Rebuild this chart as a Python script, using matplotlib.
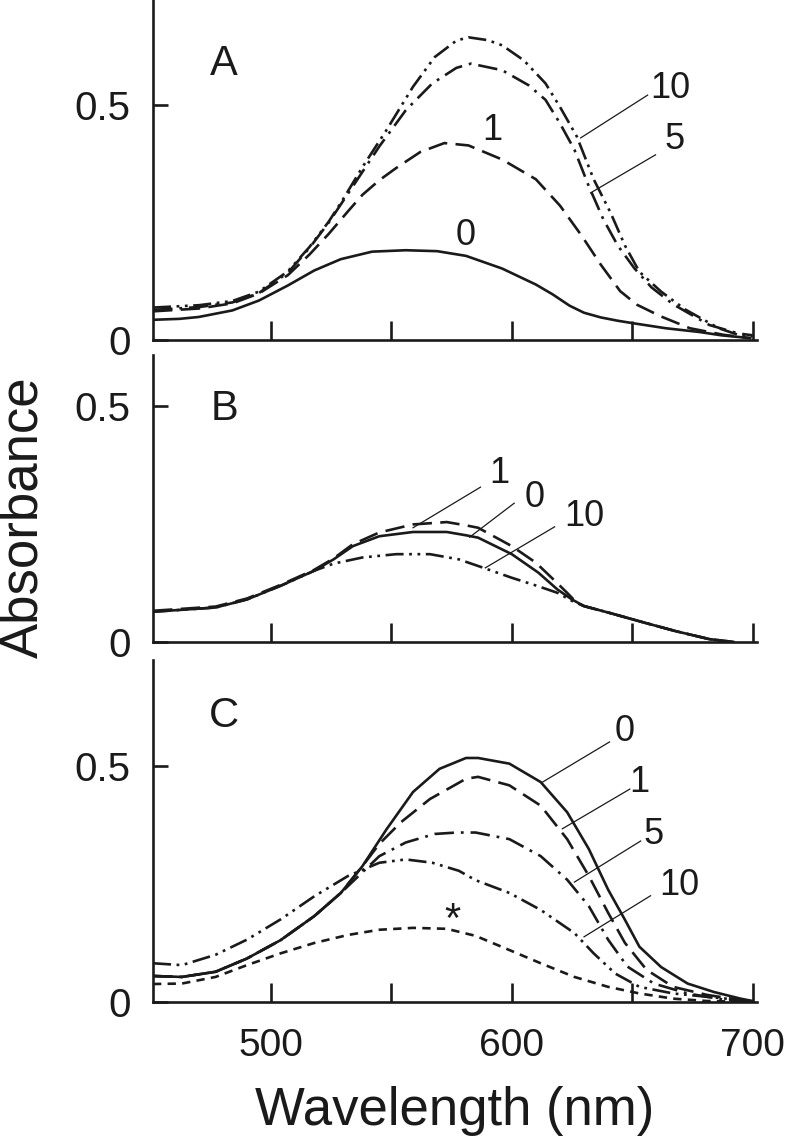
import matplotlib
matplotlib.use("Agg")
import matplotlib.pyplot as plt

plt.rcParams['font.family'] = ['Liberation Sans', 'DejaVu Sans']
plt.rcParams['lines.scale_dashes'] = False

# ---------------- data ----------------
# Panel A
a0_x = [451, 462, 470, 484, 495, 507, 518, 529, 542, 556, 569, 581, 596, 610, 617, 624, 630, 637, 644, 650, 664, 678, 687, 699]
a0_y = [0.043, 0.045, 0.049, 0.063, 0.084, 0.116, 0.148, 0.172, 0.188, 0.191, 0.189, 0.179, 0.152, 0.118, 0.097, 0.073, 0.058, 0.048, 0.041, 0.036, 0.025, 0.017, 0.010, 0.004]
a1_x = [451, 470, 484, 495, 507, 516, 524, 532, 538, 545, 552, 562, 572, 582, 596, 610, 620, 629, 637, 645, 652, 662, 674, 688, 699]
a1_y = [0.061, 0.067, 0.078, 0.099, 0.138, 0.182, 0.226, 0.274, 0.309, 0.340, 0.366, 0.400, 0.419, 0.414, 0.384, 0.342, 0.286, 0.222, 0.160, 0.104, 0.075, 0.050, 0.025, 0.011, 0.004]
a5_x = [451, 470, 484, 495, 507, 516, 524, 534, 545, 556, 567, 577, 583, 596, 607, 614, 620, 626, 632, 638, 644, 651, 658, 667, 682, 694, 700]
a5_y = [0.064, 0.070, 0.080, 0.100, 0.143, 0.196, 0.250, 0.327, 0.412, 0.489, 0.546, 0.579, 0.588, 0.574, 0.542, 0.511, 0.461, 0.405, 0.327, 0.257, 0.201, 0.152, 0.112, 0.076, 0.032, 0.014, 0.010]
a10_x = [451, 470, 484, 495, 507, 516, 524, 530, 538, 548, 559, 568, 577, 582, 590, 596, 605, 614, 620, 627, 634, 641, 647, 653, 662, 672, 686, 694, 700]
a10_y = [0.069, 0.074, 0.083, 0.103, 0.146, 0.198, 0.252, 0.300, 0.368, 0.447, 0.539, 0.602, 0.637, 0.644, 0.638, 0.627, 0.595, 0.546, 0.496, 0.433, 0.342, 0.271, 0.201, 0.145, 0.103, 0.065, 0.025, 0.011, 0.008]

# Panel B
b0_x = [451, 477, 490, 504, 518, 526, 534, 545, 559, 573, 581, 586, 600, 611, 619, 625, 630, 641, 655, 668, 682, 692]
b0_y = [0.064, 0.073, 0.090, 0.119, 0.151, 0.175, 0.203, 0.224, 0.233, 0.233, 0.226, 0.221, 0.186, 0.147, 0.111, 0.090, 0.076, 0.061, 0.041, 0.023, 0.006, 0.000]
b1_x = [451, 477, 490, 504, 518, 526, 534, 545, 559, 573, 581, 586, 600, 610, 618, 623, 627, 630, 641, 655, 668, 682, 692]
b1_y = [0.066, 0.075, 0.092, 0.121, 0.153, 0.177, 0.207, 0.232, 0.249, 0.254, 0.247, 0.242, 0.203, 0.168, 0.129, 0.104, 0.083, 0.076, 0.061, 0.041, 0.023, 0.006, 0.000]
b10_x = [451, 477, 490, 504, 518, 526, 538, 552, 566, 578, 586, 600, 611, 619, 625, 630, 641, 655, 668, 682, 692]
b10_y = [0.064, 0.073, 0.090, 0.119, 0.151, 0.166, 0.179, 0.186, 0.186, 0.175, 0.161, 0.136, 0.118, 0.104, 0.087, 0.076, 0.061, 0.041, 0.023, 0.006, 0.000]

# Panel C
c0_x = [451, 463, 477, 490, 504, 518, 529, 538, 548, 559, 570, 581, 586, 599, 612, 623, 632, 640, 647, 653, 662, 673, 684, 695, 700]
c0_y = [0.055, 0.053, 0.064, 0.092, 0.131, 0.182, 0.231, 0.288, 0.366, 0.445, 0.494, 0.517, 0.517, 0.505, 0.466, 0.402, 0.324, 0.238, 0.174, 0.117, 0.074, 0.039, 0.021, 0.007, 0.002]
c1_x = [451, 463, 477, 490, 504, 518, 529, 538, 545, 554, 566, 581, 586, 599, 612, 623, 632, 640, 647, 656, 667, 681, 695, 700]
c1_y = [0.055, 0.053, 0.064, 0.092, 0.131, 0.182, 0.231, 0.288, 0.335, 0.381, 0.430, 0.473, 0.477, 0.459, 0.416, 0.345, 0.267, 0.189, 0.125, 0.068, 0.032, 0.015, 0.004, 0.002]
c5_x = [451, 463, 477, 490, 504, 518, 529, 537, 545, 556, 568, 577, 585, 599, 612, 623, 632, 640, 648, 659, 673, 689, 700]
c5_y = [0.055, 0.053, 0.064, 0.092, 0.131, 0.182, 0.231, 0.270, 0.309, 0.338, 0.356, 0.359, 0.359, 0.345, 0.309, 0.259, 0.203, 0.132, 0.075, 0.039, 0.018, 0.004, 0.002]
c10_x = [451, 463, 477, 490, 504, 518, 532, 545, 556, 567, 578, 585, 599, 612, 626, 634, 643, 653, 667, 681, 695, 700]
c10_y = [0.082, 0.078, 0.100, 0.132, 0.175, 0.224, 0.267, 0.295, 0.302, 0.295, 0.278, 0.258, 0.231, 0.195, 0.146, 0.103, 0.060, 0.032, 0.018, 0.011, 0.004, 0.002]
cs_x = [451, 463, 477, 490, 504, 518, 532, 545, 559, 573, 585, 599, 612, 626, 640, 653, 667, 681, 700]
cs_y = [0.038, 0.039, 0.053, 0.078, 0.103, 0.125, 0.142, 0.153, 0.157, 0.155, 0.140, 0.110, 0.082, 0.053, 0.032, 0.018, 0.007, 0.002, 0.000]

# Curve labels: text, text position, leader line (start -> end)
a_lab = ["10", "5", "1", "0"]
a_lab_xy = [(666, 0.536), (667.6, 0.426), (592, 0.446), (581, 0.223)]
a_lead = [((656.4, 0.521), (628.6, 0.430)), ((659.7, 0.394), (632.7, 0.313)), None, None]
b_lab = ["1", "0", "10"]
b_lab_xy = [(595, 0.356), (609.5, 0.307), (630, 0.265)]
b_lead = [((587, 0.328), (559, 0.242)), ((601, 0.294), (582.5, 0.222)), ((617.8, 0.244), (589, 0.157))]
c_lab = ["0", "1", "5", "10", "*"]
c_lab_xy = [(647, 0.574), (653, 0.464), (659, 0.354), (669.7, 0.246), (575.5, 0.172)]
c_lead = [((640.6, 0.551), (612.8, 0.466)), ((649, 0.451), (621, 0.367)),
          ((653.5, 0.341), (626, 0.254)), ((657.6, 0.225), (630, 0.138)), None]

panel_letters = ["A", "B", "C"]
xticks = [500, 550, 600, 650, 700]
xticklabels = ["500", "", "600", "", "700"]
yticks = [0, 0.5]
yticklabels = ["0", "0.5"]

# ---------------- styles ----------------
INK = '#1a1a1a'
LW = 1.9
st_solid = dict(color=INK, lw=LW, linestyle='-')
st_dash = dict(color=INK, lw=LW, linestyle=(0, (14, 6)))
st_dd = dict(color=INK, lw=LW, linestyle=(0, (14, 5, 2, 5)))
st_ddd = dict(color=INK, lw=LW, linestyle=(0, (13, 4, 2, 4, 2, 4)))
st_short = dict(color=INK, lw=LW, linestyle=(0, (6, 4.5)))

fig = plt.figure(figsize=(7.87, 11.36), dpi=100)
L, W = 0.1944, 0.768
axA = fig.add_axes([L, 0.7007, W, 0.2993])
axB = fig.add_axes([L, 0.4349, W, 0.2526])
axC = fig.add_axes([L, 0.1180, W, 0.3010])

ylims = [0.7234, 0.608, 0.7246]
letter_y = [0.588, 0.493, 0.605]

for ax, ytop in zip([axA, axB, axC], ylims):
    ax.set_xlim(451, 702)
    ax.set_ylim(0, ytop)
    for s in ['top', 'right']:
        ax.spines[s].set_visible(False)
    for s in ['left', 'bottom']:
        ax.spines[s].set_linewidth(1.9)
        ax.spines[s].set_color(INK)
    ax.set_xticks(xticks)
    ax.set_yticks(yticks)
    ax.set_yticklabels(yticklabels)
    ax.tick_params(axis='x', direction='in', length=14, width=1.9, color=INK,
                   labelsize=28, pad=19, labelcolor=INK)
    ax.tick_params(axis='y', direction='in', length=11, width=1.9, color=INK,
                   labelsize=29, pad=16, labelcolor=INK)
    ax.patch.set_alpha(0)

axA.set_xticklabels([])
axB.set_xticklabels([])
axC.set_xticklabels(xticklabels)

axA.plot(a0_x, a0_y, **st_solid)
axA.plot(a1_x, a1_y, **st_dash)
axA.plot(a5_x, a5_y, **st_dd)
axA.plot(a10_x, a10_y, **st_ddd)

axB.plot(b0_x, b0_y, **st_solid)
axB.plot(b1_x, b1_y, **st_dash)
axB.plot(b10_x, b10_y, **st_ddd)

axC.plot(c0_x, c0_y, **st_solid)
axC.plot(c1_x, c1_y, **st_dash)
axC.plot(c5_x, c5_y, **st_dd)
axC.plot(c10_x, c10_y, **st_ddd)
axC.plot(cs_x, cs_y, **st_short)

for ax, labs, xys, leads in [(axA, a_lab, a_lab_xy, a_lead),
                             (axB, b_lab, b_lab_xy, b_lead),
                             (axC, c_lab, c_lab_xy, c_lead)]:
    for t, (x, y), ld in zip(labs, xys, leads):
        ax.text(x, y, t, fontsize=26 if t != "*" else 30, ha='center', va='center',
                color=INK)
        if ld is not None:
            (x1, y1), (x2, y2) = ld
            ax.plot([x1, x2], [y1, y2], color=INK, lw=0.9)

for ax, letter, ly in zip([axA, axB, axC], panel_letters, letter_y):
    ax.text(480.5, ly, letter, fontsize=30, ha='center', va='center', color=INK)

fig.text(0.578, 0.010, "Wavelength (nm)", fontsize=38, ha='center', va='baseline',
         color=INK)
fig.text(0.030, 0.545, "Absorbance", fontsize=38, ha='center', va='center',
         rotation=90, color=INK)

fig.savefig("out.png", dpi=100)
